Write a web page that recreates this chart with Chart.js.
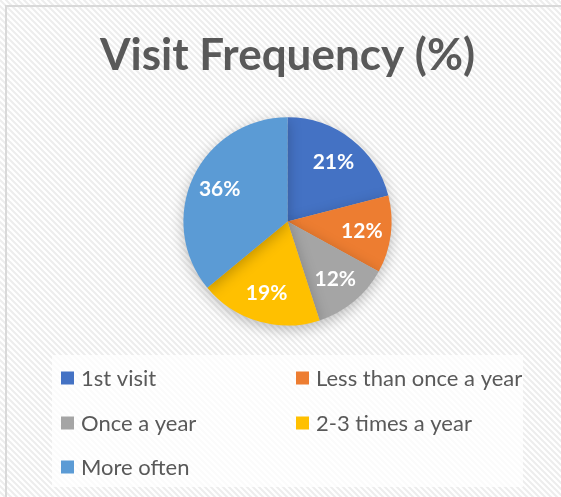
<!DOCTYPE html>
<html>
<head>
<meta charset="utf-8">
<script src="https://cdn.jsdelivr.net/npm/chart.js@4/dist/chart.umd.min.js"></script>
<style>
  html, body { margin: 0; padding: 0; background: #fff; }
  #wrap { width: 561px; height: 497px; position: relative; }
</style>
</head>
<body>
<div id="wrap"><canvas id="c" width="561" height="497"></canvas></div>
<script>
const categories = ["1st visit", "Less than once a year", "Once a year", "2-3 times a year", "More often"];
const values = [21, 12, 12, 19, 36];
const colors = ["#4472C4", "#ED7D31", "#A5A5A5", "#FFC000", "#5B9BD5"];
const titleText = "Visit Frequency (%)";
const FONT = "Lato, 'Open Sans', sans-serif";

function makeHatch(ctx) {
  const p = document.createElement('canvas');
  p.width = 6; p.height = 6;
  const g = p.getContext('2d');
  g.fillStyle = '#ffffff';
  g.fillRect(0, 0, 6, 6);
  g.strokeStyle = '#ededed';
  g.lineWidth = 2;
  g.beginPath();
  g.moveTo(-3, -3); g.lineTo(9, 9);
  g.moveTo(-9, -3); g.lineTo(3, 9);
  g.moveTo(3, -3); g.lineTo(15, 9);
  g.stroke();
  return ctx.createPattern(p, 'repeat');
}

const bgPlugin = {
  id: 'bg',
  beforeDraw(chart) {
    const ctx = chart.ctx;
    ctx.save();
    ctx.fillStyle = makeHatch(ctx);
    ctx.fillRect(0, 0, chart.width, chart.height);
    ctx.fillStyle = '#d9d9d9';
    ctx.fillRect(5, 5, chart.width - 5, 2);
    ctx.fillRect(5, 5, 2, chart.height - 5);
    ctx.restore();
  },
  beforeDatasetsDraw(chart) {
    const ctx = chart.ctx;
    ctx.save();
    ctx.shadowColor = 'rgba(0,0,0,0.25)';
    ctx.shadowBlur = 14;
    ctx.shadowOffsetY = 4;
  },
  afterDatasetsDraw(chart) {
    chart.ctx.restore();
  }
};

const labelPlugin = {
  id: 'sliceLabels',
  afterDatasetsDraw(chart) {
    const ctx = chart.ctx;
    const meta = chart.getDatasetMeta(0);
    ctx.save();
    ctx.fillStyle = '#ffffff';
    ctx.font = "bold 21px " + FONT;
    ctx.textAlign = 'center';
    ctx.textBaseline = 'middle';
    meta.data.forEach((arc, i) => {
      const p = arc.getProps(['x', 'y', 'startAngle', 'endAngle', 'outerRadius'], true);
      const mid = (p.startAngle + p.endAngle) / 2;
      const r = p.outerRadius * 0.72;
      ctx.fillText(values[i] + '%', p.x + Math.cos(mid) * r, p.y + Math.sin(mid) * r);
    });
    ctx.restore();
  }
};

const legendPlugin = {
  id: 'gridLegend',
  afterDraw(chart) {
    const ctx = chart.ctx;
    ctx.save();
    ctx.fillStyle = 'rgba(255,255,255,0.75)';
    ctx.fillRect(52, 355, 471, 132);
    ctx.font = "22px " + FONT;
    ctx.textBaseline = 'middle';
    ctx.textAlign = 'left';
    const colX = [61, 296];
    const rowY = [378, 423, 467];
    categories.forEach((c, i) => {
      const x = colX[i % 2];
      const y = rowY[Math.floor(i / 2)];
      ctx.fillStyle = colors[i];
      ctx.fillRect(x, y - 6.5, 13, 13);
      ctx.fillStyle = '#595959';
      ctx.fillText(c, x + 20, y + 1);
    });
    ctx.restore();
  }
};

new Chart(document.getElementById('c'), {
  type: 'pie',
  data: {
    labels: categories,
    datasets: [{
      data: values,
      backgroundColor: colors,
      borderWidth: 0,
      hoverOffset: 0
    }]
  },
  options: {
    responsive: false,
    animation: false,
    events: [],
    layout: { padding: { left: 14, right: 0, top: 0, bottom: 171.5 } },
    plugins: {
      legend: { display: false },
      tooltip: { enabled: false },
      title: {
        display: true,
        text: titleText,
        color: '#595959',
        font: { family: FONT, size: 44, weight: 'bold' },
        padding: { top: 29, bottom: 35.5 }
      }
    }
  },
  plugins: [bgPlugin, labelPlugin, legendPlugin]
});
</script>
</body>
</html>
